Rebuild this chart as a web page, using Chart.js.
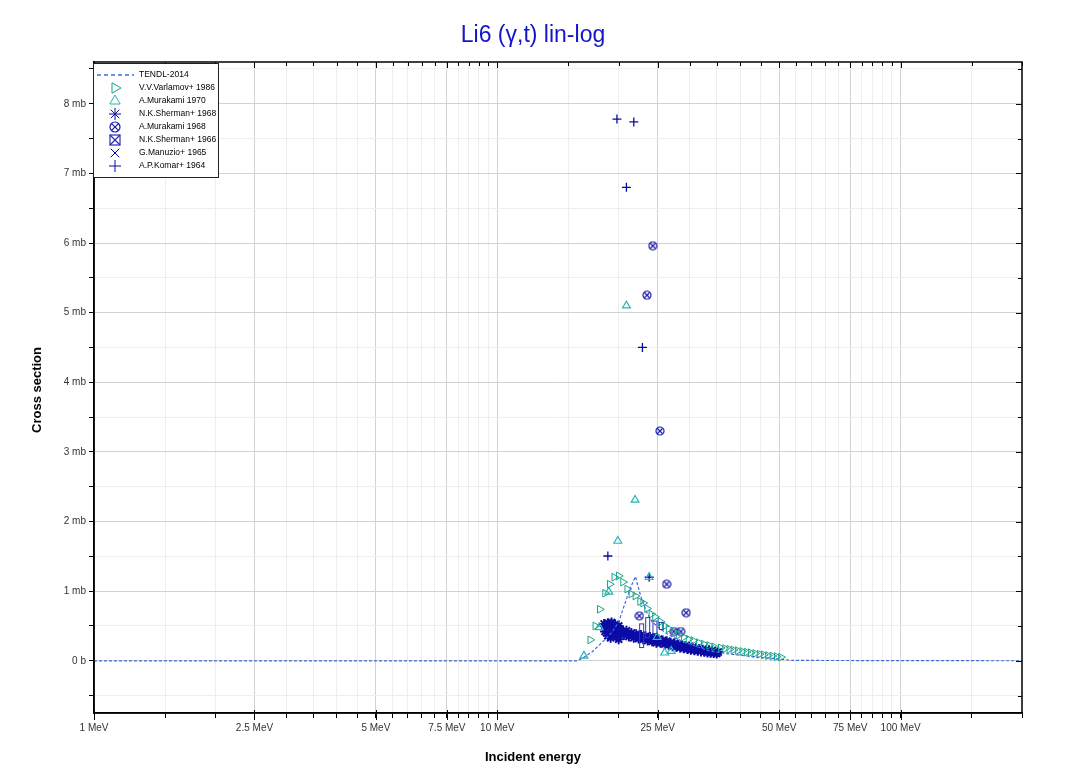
<!DOCTYPE html>
<html lang="en">
<head>
<meta charset="UTF-8" />
<title>Li6 (γ,t) lin-log</title>
<script src="https://cdn.jsdelivr.net/npm/chart.js@4"></script>
<style>
  * { margin: 0; padding: 0; box-sizing: border-box; }
  body { background: #fff; width: 1071px; height: 773px; overflow: hidden; }
  canvas { display: block; }
</style>
</head>
<body>
<canvas id="xsChart" width="1071" height="773"></canvas>
<script>
// ---- data (energy in MeV, cross section in mb) ----
const tendlE = [1, 15.8, 16.4, 17.2, 18.0, 18.6, 19.3, 20.0, 20.8, 21.4, 22.0, 22.7, 23.4, 24.2, 25.2, 26.6, 29.3, 33.6, 38.4, 44.5, 50.0, 54.0, 200];
const tendlY = [0, 0, 0.05, 0.13, 0.24, 0.32, 0.42, 0.56, 0.85, 1.05, 1.21, 0.92, 0.71, 0.56, 0.47, 0.37, 0.26, 0.14, 0.09, 0.05, 0.025, 0.005, 0];

const varlamovE = [17.0, 17.5, 17.95, 18.5, 19.0, 19.5, 20.0, 20.5, 21.0, 21.5, 22.0, 22.6, 23.0, 23.5, 24.1, 24.6, 25.4, 26.0, 26.6, 27.4, 28.2, 29.0, 29.8, 30.6, 31.6, 32.5, 33.5, 34.5, 35.8, 36.7, 37.6, 38.5, 39.5, 40.5, 41.5, 42.5, 43.6, 44.7, 45.8, 46.9, 48.1, 49.3, 50.5];
const varlamovY = [0.30, 0.50, 0.74, 0.97, 1.10, 1.20, 1.22, 1.13, 1.03, 0.96, 0.93, 0.85, 0.83, 0.75, 0.67, 0.63, 0.56, 0.50, 0.46, 0.42, 0.37, 0.34, 0.31, 0.29, 0.26, 0.24, 0.22, 0.20, 0.185, 0.175, 0.165, 0.155, 0.145, 0.135, 0.125, 0.115, 0.105, 0.095, 0.085, 0.075, 0.068, 0.06, 0.052];

const murakami70E = [16.4, 17.9, 18.9, 19.9, 20.9, 21.96, 23.8, 24.9, 26.0, 27.0];
const murakami70Y = [0.07, 0.48, 0.99, 1.72, 5.10, 2.31, 1.20, 0.34, 0.115, 0.14];

const sherman68E = [18.4, 18.6, 18.8, 19.0, 19.2, 19.4, 19.6, 19.8, 20.0, 20.2, 18.5, 18.8, 19.1, 19.4, 19.7, 20.0, 20.3, 20.6, 20.9, 21.2, 21.5, 21.8, 22.1, 22.4, 22.7, 23.0, 23.3, 23.6, 23.9, 24.2, 24.5, 24.8, 25.1, 25.4, 25.7, 26.0, 26.3, 26.6, 26.9, 27.2, 27.5, 27.8, 28.1, 28.4, 28.7, 29.0, 29.3, 29.6, 29.9, 30.2, 30.5, 30.8, 31.1, 31.4, 31.7, 32.0, 32.3, 32.6, 32.9, 33.2, 33.5, 33.8, 34.1, 34.4, 34.7, 35.0, 35.3];
const sherman68Y = [0.53, 0.49, 0.54, 0.50, 0.55, 0.48, 0.52, 0.46, 0.50, 0.44, 0.42, 0.36, 0.33, 0.41, 0.36, 0.31, 0.41, 0.37, 0.43, 0.35, 0.40, 0.33, 0.38, 0.32, 0.37, 0.31, 0.35, 0.29, 0.34, 0.28, 0.32, 0.26, 0.31, 0.26, 0.29, 0.24, 0.28, 0.23, 0.26, 0.21, 0.25, 0.20, 0.23, 0.19, 0.22, 0.18, 0.21, 0.17, 0.20, 0.16, 0.19, 0.15, 0.18, 0.145, 0.17, 0.135, 0.16, 0.13, 0.155, 0.12, 0.15, 0.115, 0.14, 0.11, 0.135, 0.105, 0.125];

const murakami68E = [22.5, 23.5, 24.3, 25.3, 26.3, 27.4, 28.5, 29.4];
const murakami68Y = [0.645, 5.25, 5.96, 3.30, 1.10, 0.42, 0.42, 0.69];

const sherman66E = [22.8, 23.6, 24.6, 25.5];
const sherman66Y = [0.36, 0.47, 0.48, 0.50];
const sherman66Lo = [0.19, 0.33, 0.39, 0.45];
const sherman66Hi = [0.53, 0.62, 0.57, 0.55];

const manuzioE = [19.2, 20.4, 21.6];
const manuzioY = [0.40, 0.38, 0.36];

const komarE = [18.8, 19.8, 20.9, 21.8, 22.9, 23.8];
const komarY = [1.505, 7.78, 6.80, 7.74, 4.50, 1.20];

const xTickValues = [1, 1.5, 2, 2.5, 3, 3.5, 4, 4.5, 5, 5.5, 6, 6.5, 7, 7.5, 8, 8.5, 9, 9.5, 10, 15, 20, 25, 30, 35, 40, 45, 50, 55, 60, 65, 70, 75, 80, 85, 90, 95, 100, 150, 200];
const xLabelValues = [1, 2.5, 5, 7.5, 10, 25, 50, 75, 100];
const xLabelTexts = ['1 MeV', '2.5 MeV', '5 MeV', '7.5 MeV', '10 MeV', '25 MeV', '50 MeV', '75 MeV', '100 MeV'];
const yTickValues = [-0.5, 0, 0.5, 1, 1.5, 2, 2.5, 3, 3.5, 4, 4.5, 5, 5.5, 6, 6.5, 7, 7.5, 8, 8.5];

const FONT = '"Liberation Sans", Arial, sans-serif';
Chart.defaults.font.family = FONT;

function pts(xs, ys) { return xs.map((x, i) => ({ x: x, y: ys[i] })); }

// little canvas markers for symbols Chart.js does not have
function makeMarker(kind, color, size) {
  const c = document.createElement('canvas');
  c.width = c.height = size;
  const g = c.getContext('2d');
  g.strokeStyle = color;
  g.lineWidth = 1.2;
  const m = size / 2, r = size / 2 - 1;
  if (kind === 'circleX') {
    g.beginPath(); g.arc(m, m, r, 0, Math.PI * 2); g.stroke();
    const d = r * 0.68;
    g.beginPath();
    g.moveTo(m - d, m - d); g.lineTo(m + d, m + d);
    g.moveTo(m + d, m - d); g.lineTo(m - d, m + d);
    g.stroke();
  } else {
    g.strokeRect(1, 1, size - 2, size - 2);
    g.beginPath();
    g.moveTo(1, 1); g.lineTo(size - 1, size - 1);
    g.moveTo(size - 1, 1); g.lineTo(1, size - 1);
    g.stroke();
  }
  return c;
}
const circleXMarker = makeMarker('circleX', '#1a1aa8', 10);
const boxXMarker = makeMarker('boxX', '#2a2ab8', 12);
const circleXLegend = makeMarker('circleX', '#1a1aa8', 12);

// error boxes for Sherman 1966, frame ticks, texts and legend
const extras = {
  id: 'extras',
  afterDatasetsDraw(chart) {
    const ctx = chart.ctx, xs = chart.scales.x, ys = chart.scales.y;
    ctx.save();
    ctx.strokeStyle = '#3535c0';
    ctx.lineWidth = 1;
    sherman66E.forEach((e, i) => {
      const px = xs.getPixelForValue(e);
      const top = ys.getPixelForValue(sherman66Hi[i]);
      const bot = ys.getPixelForValue(sherman66Lo[i]);
      ctx.strokeRect(px - 2, top, 4, bot - top);
    });
    ctx.restore();
  },
  afterDraw(chart) {
    const ctx = chart.ctx, a = chart.chartArea, xs = chart.scales.x, ys = chart.scales.y;
    ctx.save();
    ctx.strokeStyle = '#000';
    ctx.lineWidth = 1.5;
    ctx.strokeRect(a.left, a.top, a.right - a.left, a.bottom - a.top);

    // inward ticks on top and right, longer major ticks on bottom
    ctx.lineWidth = 1;
    ctx.beginPath();
    xTickValues.forEach(v => {
      const px = Math.round(xs.getPixelForValue(v)) + 0.5;
      const major = xLabelValues.includes(v);
      ctx.moveTo(px, a.top); ctx.lineTo(px, a.top + (major ? 6 : 4));
      if (major) { ctx.moveTo(px, a.bottom - 3); ctx.lineTo(px, a.bottom + 7); }
    });
    yTickValues.forEach(v => {
      const py = Math.round(ys.getPixelForValue(v)) + 0.5;
      ctx.moveTo(a.right, py); ctx.lineTo(a.right - (Number.isInteger(v) ? 6 : 4), py);
    });
    ctx.stroke();

    ctx.fillStyle = '#1414c8';
    ctx.font = '23px ' + FONT;
    ctx.textAlign = 'center';
    ctx.textBaseline = 'alphabetic';
    ctx.fillText('Li6 (γ,t) lin-log', 533, 42);

    ctx.fillStyle = '#000';
    ctx.font = 'bold 13px ' + FONT;
    ctx.textBaseline = 'middle';
    ctx.fillText('Incident energy', 533, 757);
    ctx.translate(37, 390);
    ctx.rotate(-Math.PI / 2);
    ctx.fillText('Cross section', 0, 0);
    ctx.restore();

    // legend box
    ctx.save();
    const lx = 93, ly = 63, lw = 125, lh = 114;
    ctx.fillStyle = '#fff';
    ctx.fillRect(lx, ly, lw, lh);
    ctx.strokeStyle = '#222';
    ctx.lineWidth = 1;
    ctx.strokeRect(lx + 0.5, ly + 0.5, lw, lh);
    ctx.font = '8.5px ' + FONT;
    ctx.textAlign = 'left';
    ctx.textBaseline = 'middle';
    chart.data.datasets.forEach((ds, i) => {
      const y = 75 + i * 13;
      ctx.strokeStyle = ds.borderColor;
      ctx.fillStyle = 'rgba(0,0,0,0)';
      if (ds.showLine) {
        ctx.save();
        ctx.lineWidth = 1.5;
        ctx.setLineDash([4, 3]);
        ctx.beginPath(); ctx.moveTo(97, y); ctx.lineTo(134, y); ctx.stroke();
        ctx.restore();
      } else {
        ctx.lineWidth = 1;
        Chart.helpers.drawPoint(ctx, {
          pointStyle: ds.legendStyle || ds.pointStyle,
          rotation: ds.pointRotation || 0,
          radius: 6,
          borderWidth: 1
        }, 115, y);
      }
      ctx.fillStyle = '#000';
      ctx.fillText(ds.label, 139, y);
    });
    ctx.restore();
  }
};

const ctx = document.getElementById('xsChart').getContext('2d');
const chart = new Chart(ctx, {
  type: 'scatter',
  data: {
    datasets: [
      { label: 'TENDL-2014', data: pts(tendlE, tendlY), showLine: true, borderColor: '#3d6be0', borderWidth: 1.2, borderDash: [3, 2], pointRadius: 0, fill: false },
      { label: 'V.V.Varlamov+ 1986', data: pts(varlamovE, varlamovY), borderColor: '#17a589', backgroundColor: 'rgba(0,0,0,0)', pointStyle: 'triangle', pointRotation: 90, pointRadius: 4.5, borderWidth: 1 },
      { label: 'A.Murakami 1970', data: pts(murakami70E, murakami70Y), borderColor: '#2ab3b8', backgroundColor: 'rgba(0,0,0,0)', pointStyle: 'triangle', pointRadius: 4.5, borderWidth: 1.2 },
      { label: 'N.K.Sherman+ 1968', data: pts(sherman68E, sherman68Y), borderColor: '#0b0ba6', backgroundColor: 'rgba(0,0,0,0)', pointStyle: 'star', pointRadius: 5, borderWidth: 2 },
      { label: 'A.Murakami 1968', data: pts(murakami68E, murakami68Y), borderColor: '#1a1aa8', pointStyle: circleXMarker, legendStyle: circleXLegend, pointRadius: 5 },
      { label: 'N.K.Sherman+ 1966', data: pts(sherman66E, sherman66Y), borderColor: '#2a2ab8', pointStyle: boxXMarker, legendStyle: boxXMarker, pointRadius: 0 },
      { label: 'G.Manuzio+ 1965', data: pts(manuzioE, manuzioY), borderColor: '#0000aa', backgroundColor: 'rgba(0,0,0,0)', pointStyle: 'crossRot', pointRadius: 3.5, borderWidth: 1 },
      { label: 'A.P.Komar+ 1964', data: pts(komarE, komarY), borderColor: '#0a0aa8', backgroundColor: 'rgba(0,0,0,0)', pointStyle: 'cross', pointRadius: 4.5, borderWidth: 1.3 }
    ]
  },
  options: {
    responsive: false,
    animation: false,
    layout: { padding: { left: 0, right: 49, top: 62, bottom: 0 } },
    plugins: { legend: { display: false }, title: { display: false }, tooltip: { enabled: false } },
    scales: {
      x: {
        type: 'logarithmic',
        min: 1,
        max: 200,
        afterBuildTicks: s => { s.ticks = xTickValues.map(v => ({ value: v })); },
        afterFit: s => { s.height = 60; },
        border: { color: '#000', width: 1.5 },
        grid: {
          color: c => (c.tick && xLabelValues.includes(c.tick.value)) ? '#d2d2d2' : '#eeeeee',
          tickColor: '#000',
          tickLength: 5
        },
        ticks: {
          autoSkip: false,
          maxRotation: 0,
          padding: 4,
          color: '#333',
          font: { size: 10 },
          callback: v => {
            const i = xLabelValues.indexOf(v);
            return i >= 0 ? xLabelTexts[i] : '';
          }
        }
      },
      y: {
        min: -0.75,
        max: 8.6,
        afterBuildTicks: s => { s.ticks = yTickValues.map(v => ({ value: v })); },
        afterFit: s => { s.width = 94; },
        border: { color: '#000', width: 1.5 },
        grid: {
          color: c => (c.tick && Number.isInteger(c.tick.value)) ? '#d2d2d2' : '#eeeeee',
          tickColor: '#000',
          tickLength: 5
        },
        ticks: {
          autoSkip: false,
          padding: 3,
          color: '#333',
          font: { size: 10 },
          callback: v => Number.isInteger(v) ? (v === 0 ? '0 b' : v + ' mb') : ''
        }
      }
    }
  },
  plugins: [extras]
});
</script>
</body>
</html>
